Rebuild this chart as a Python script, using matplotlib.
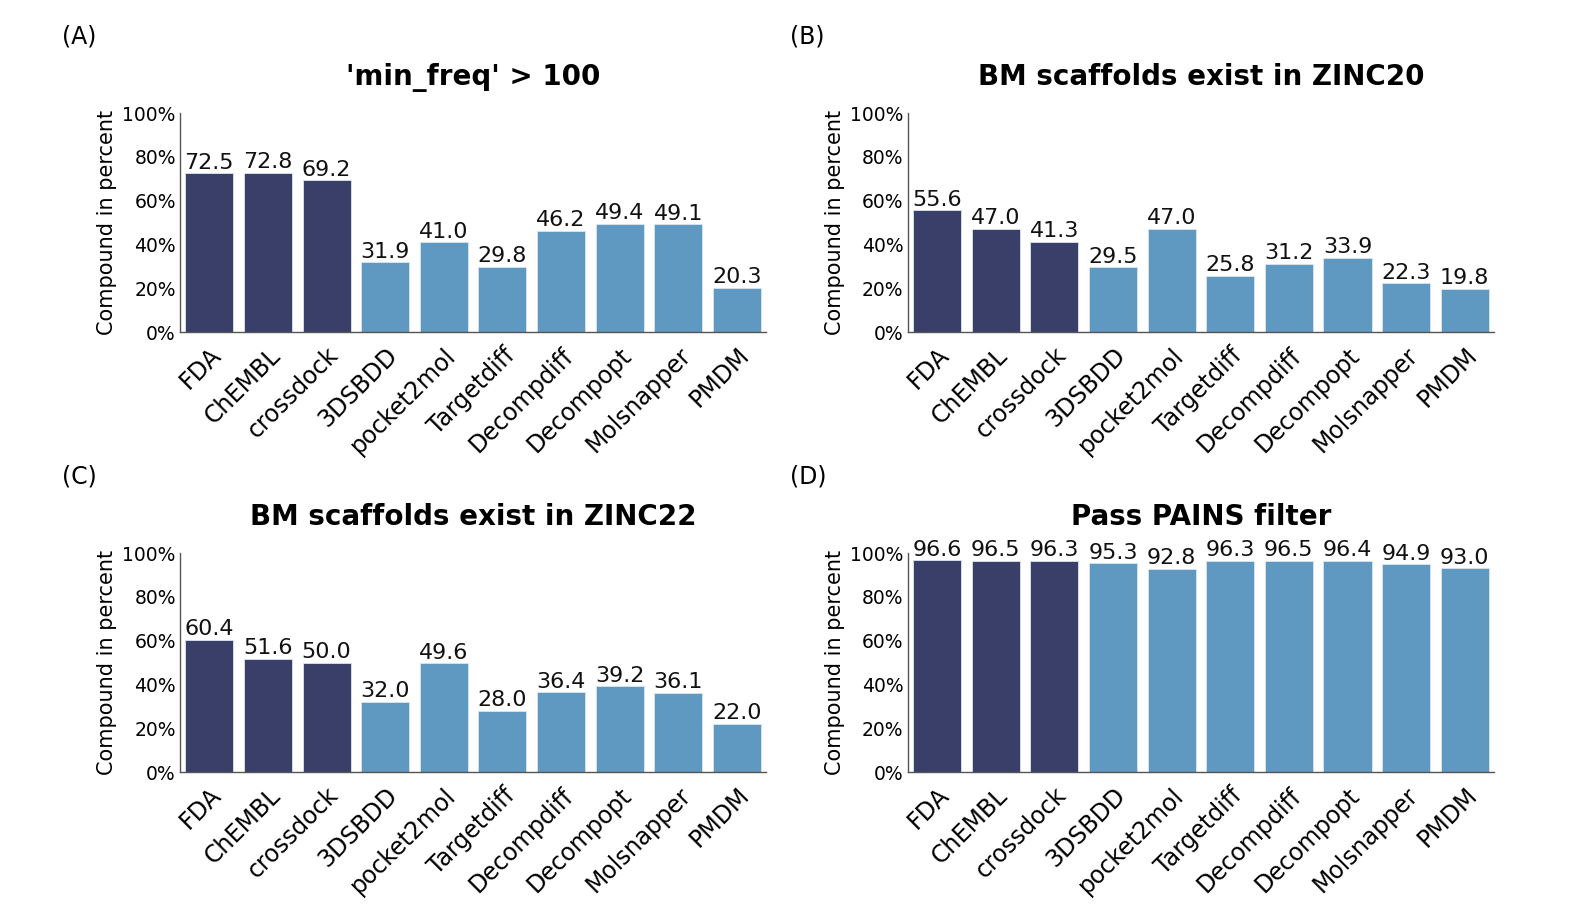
import matplotlib
matplotlib.use("Agg")
from matplotlib import pyplot as plt
import numpy as np

categories = ['FDA', 'ChEMBL', 'crossdock', '3DSBDD', 'pocket2mol', 'Targetdiff',
              'Decompdiff', 'Decompopt', 'Molsnapper', 'PMDM']

min_freq = [72.5, 72.8, 69.2, 31.9, 41.0, 29.8, 46.2, 49.4, 49.1, 20.3]
zinc20 = [55.6, 47.0, 41.3, 29.5, 47.0, 25.8, 31.2, 33.9, 22.3, 19.8]
zinc22 = [60.4, 51.6, 50.0, 32.0, 49.6, 28.0, 36.4, 39.2, 36.1, 22.0]
pains = [96.6, 96.5, 96.3, 95.3, 92.8, 96.3, 96.5, 96.4, 94.9, 93.0]

titles = ["'min_freq' > 100", 'BM scaffolds exist in ZINC20',
          'BM scaffolds exist in ZINC22', 'Pass PAINS filter']
letters = ['(A)', '(B)', '(C)', '(D)']
panels = [min_freq, zinc20, zinc22, pains]

dark = '#393f68'
light = '#5f98c1'
colors = [dark] * 3 + [light] * 7

plt.rcParams['font.family'] = ['DejaVu Sans']
fig = plt.figure(figsize=(15.76, 9.18), dpi=100)

# axes positions in figure fractions
lefts = [0.1142, 0.576]
bottoms = [0.6383, 0.159]
w, h = 0.372, 0.2386

for i, vals in enumerate(panels):
    ax = fig.add_axes([lefts[i % 2], bottoms[i // 2], w, h])
    x = np.arange(len(categories))
    bars = ax.bar(x, vals, width=0.82, color=colors, edgecolor='#d8e6f0', linewidth=0.6)
    for b, v in zip(bars, vals):
        ax.text(b.get_x() + b.get_width() / 2, v + 0.3, f'{v:.1f}',
                ha='center', va='bottom', fontsize=16, color='#111111')
    ax.set_xlim(-0.5, len(categories) - 0.5)
    ax.set_ylim(0, 100)
    ax.set_yticks([0, 20, 40, 60, 80, 100])
    ax.set_yticklabels([f'{t}%' for t in [0, 20, 40, 60, 80, 100]], fontsize=13.5)
    ax.set_xticks(x)
    ax.set_xticklabels(categories, rotation=45, ha='right', rotation_mode='anchor', fontsize=17)
    ax.tick_params(axis='y', length=0, pad=3)
    ax.tick_params(axis='x', length=0, pad=8)
    ax.set_ylabel('Compound in percent', fontsize=15)
    ax.set_title(titles[i], fontsize=20, fontweight='bold', pad=20)
    ax.spines['top'].set_visible(False)
    ax.spines['right'].set_visible(False)
    for s in ['left', 'bottom']:
        ax.spines[s].set_color('#555555')
        ax.spines[s].set_linewidth(1.0)
    fig.text(lefts[i % 2] - 0.075, bottoms[i // 2] + h + 0.083, letters[i],
             fontsize=17, ha='left', va='center')

plt.savefig('out.png', dpi=100)
